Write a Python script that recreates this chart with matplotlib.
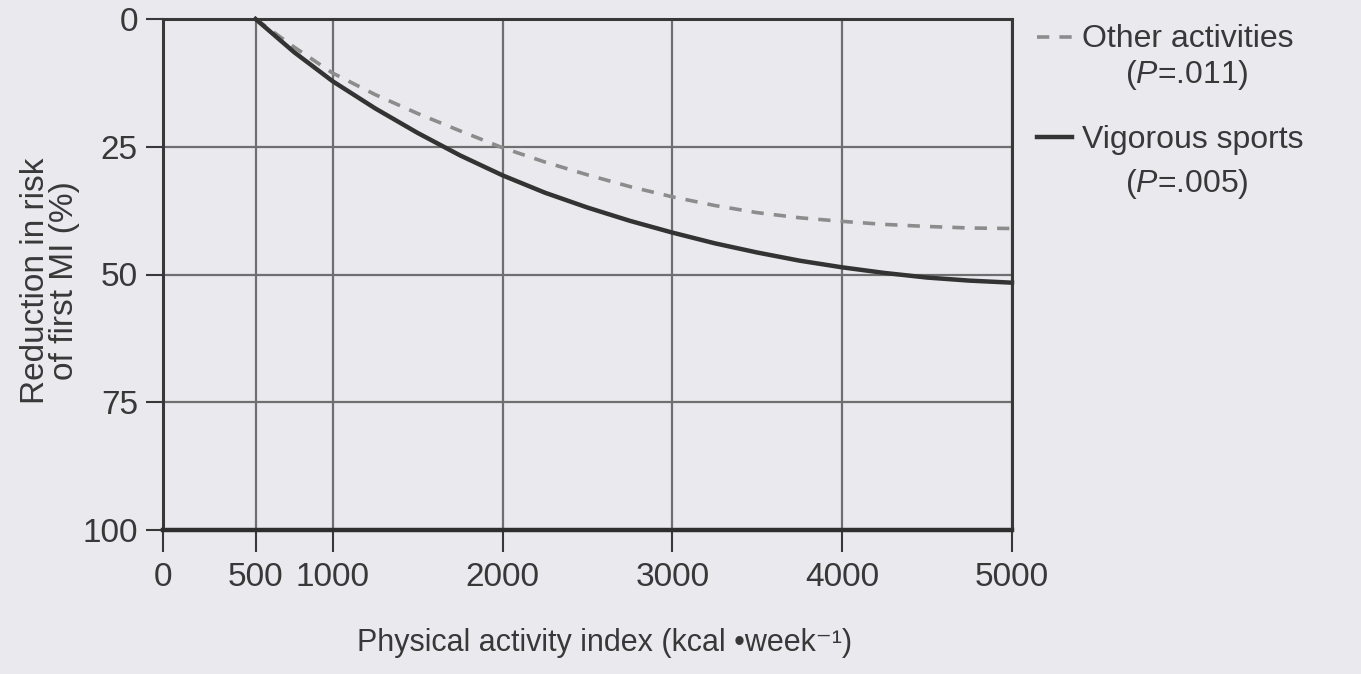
import matplotlib
matplotlib.use('Agg')
import matplotlib.pyplot as plt
from matplotlib import rcParams
from matplotlib.lines import Line2D
import numpy as np

rcParams['font.family'] = ['Liberation Sans', 'DejaVu Sans']
rcParams['mathtext.fontset'] = 'custom'
rcParams['mathtext.rm'] = 'Liberation Sans'
rcParams['mathtext.it'] = 'Liberation Sans:italic'

# values
activity = [500, 750, 1000, 1250, 1500, 1750, 2000, 2250, 2500, 2750, 3000,
            3250, 3500, 3750, 4000, 4250, 4500, 4750, 5000]
vigorous = [0, 6.5, 12.2, 17.5, 22.3, 26.7, 30.6, 34.0, 36.9, 39.5, 41.8,
            43.9, 45.7, 47.3, 48.6, 49.7, 50.6, 51.2, 51.6]
other = [0, 5.5, 10.6, 14.8, 18.5, 21.9, 25.2, 28.0, 30.5, 32.8, 34.8,
         36.5, 37.9, 38.9, 39.6, 40.2, 40.6, 40.9, 41.0]

xticks = [0, 500, 1000, 2000, 3000, 4000, 5000]
yticks = [0, 25, 50, 75, 100]

W, H = 1361, 674
bg = '#eaeaee'
ink = '#383838'

def fx(px):
    return px / W

def fy(py):
    return 1 - py / H

fig = plt.figure(figsize=(W / 100, H / 100), dpi=100, facecolor=bg)
ax = fig.add_axes([fx(163), fy(530), fx(1012) - fx(163), fy(19) - fy(530)])
ax.set_facecolor(bg)

# the printed axis puts 500 a little right of where a linear scale would
src = [0, 500, 1000, 5000]
dst = [0, 545, 1000, 5000]
ax.set_xscale('function', functions=(lambda v: np.interp(v, src, dst),
                                     lambda v: np.interp(v, dst, src)))

ax.plot(activity, other, color='#8c8c8c', lw=2.6, dashes=(3.4, 2.8),
        clip_on=False, zorder=3)
ax.plot(activity, vigorous, color='#333333', lw=3.2, clip_on=False, zorder=4)

ax.set_xlim(0, 5000)
ax.set_ylim(100, 0)
ax.set_xticks(xticks)
ax.set_yticks(yticks)
ax.grid(True, color='#6f6f6f', lw=1.6)
ax.set_axisbelow(True)

for side in ['top', 'left', 'right']:
    ax.spines[side].set_linewidth(2.2)
    ax.spines[side].set_color(ink)
ax.spines['bottom'].set_linewidth(3.2)
ax.spines['bottom'].set_color('#2e2e2e')

ax.tick_params(axis='x', direction='out', length=16, width=1.5, pad=7,
               labelsize=24, colors=ink)
ax.tick_params(axis='y', direction='out', length=12, width=1.5, pad=6,
               labelsize=24, colors=ink)

fig.text(fx(50), fy(281), 'Reduction in risk\nof first MI (%)', rotation=90,
         ha='center', va='center', fontsize=24, color=ink, linespacing=0.95,
         multialignment='center')
fig.text(fx(605), fy(651), 'Physical activity index (kcal \u2022week\u207b\u00b9)',
         ha='center', va='baseline', fontsize=22, color=ink)

# legend drawn by hand so the keys sit on the first line of each label
fig.add_artist(Line2D([fx(1037), fx(1078)], [fy(37), fy(37)], color='#8c8c8c',
                      lw=2.6, dashes=(3.4, 2.8)))
fig.add_artist(Line2D([fx(1037), fx(1072)], [fy(137), fy(137)], color='#333333',
                      lw=3.2))
fig.text(fx(1082), fy(47), 'Other activities', ha='left', va='baseline',
         fontsize=23, color=ink)
fig.text(fx(1187), fy(83), '($P$=.011)', ha='center', va='baseline',
         fontsize=23, color=ink)
fig.text(fx(1082), fy(148), 'Vigorous sports', ha='left', va='baseline',
         fontsize=23, color=ink)
fig.text(fx(1187), fy(192), '($P$=.005)', ha='center', va='baseline',
         fontsize=23, color=ink)

fig.savefig('out.png', dpi=100, facecolor=bg)
